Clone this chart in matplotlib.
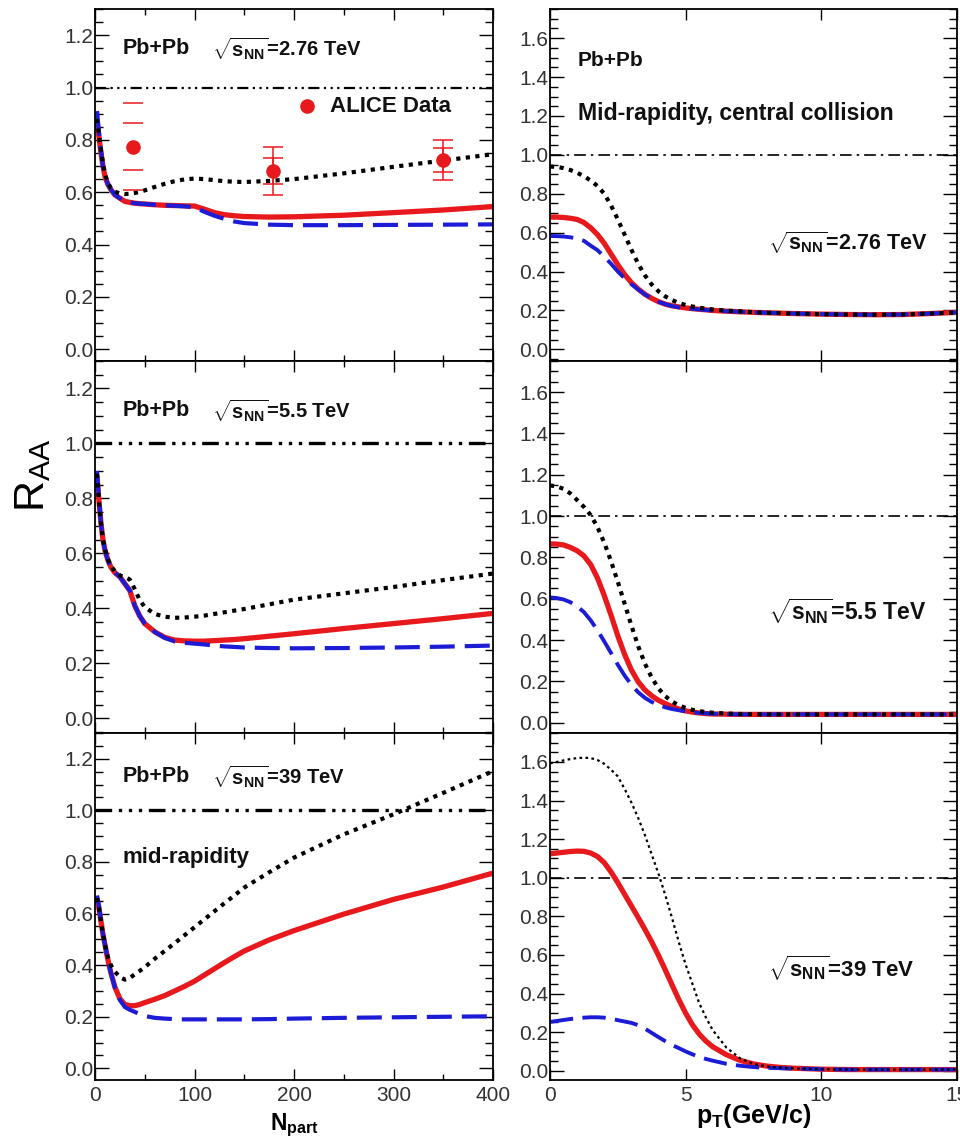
import numpy as np
import matplotlib
matplotlib.use('Agg')
import matplotlib.pyplot as plt
from matplotlib.ticker import FixedLocator, MultipleLocator, FormatStrFormatter

plt.rcParams['font.family'] = ['Liberation Sans', 'DejaVu Sans']
plt.rcParams['mathtext.fontset'] = 'custom'
plt.rcParams['mathtext.rm'] = 'Liberation Sans'
plt.rcParams['mathtext.bf'] = 'Liberation Sans:bold'
plt.rcParams['mathtext.sf'] = 'Liberation Sans'
plt.rcParams['mathtext.default'] = 'regular'

# ---------------- R_AA vs N_part ----------------
npart = [2, 4, 6, 8, 10, 13, 16, 20, 25, 30, 35, 40, 45, 50, 60, 70, 80, 90, 100,
         110, 120, 130, 140, 150, 175, 200, 250, 300, 350, 400]

# sqrt(s_NN) = 2.76 TeV
np276_dot = [0.88, 0.82, 0.76, 0.71, 0.67, 0.635, 0.615, 0.602, 0.595, 0.593, 0.594, 0.597, 0.601,
             0.607, 0.62, 0.632, 0.642, 0.649, 0.652, 0.65, 0.646, 0.642, 0.64, 0.639, 0.643,
             0.65, 0.672, 0.697, 0.721, 0.745]
np276_red = [0.87, 0.81, 0.75, 0.70, 0.66, 0.63, 0.61, 0.59, 0.577, 0.565, 0.561, 0.558, 0.556,
             0.555, 0.552, 0.55, 0.549, 0.548, 0.547, 0.535, 0.522, 0.514, 0.51, 0.507, 0.505,
             0.506, 0.512, 0.522, 0.532, 0.545]
np276_blue = [0.91, 0.83, 0.76, 0.70, 0.66, 0.63, 0.61, 0.59, 0.577, 0.565, 0.561, 0.558, 0.556,
              0.555, 0.552, 0.55, 0.548, 0.546, 0.542, 0.525, 0.51, 0.498, 0.488, 0.482, 0.476,
              0.474, 0.474, 0.475, 0.476, 0.477]

# sqrt(s_NN) = 5.5 TeV
np55_dot = [0.89, 0.79, 0.71, 0.65, 0.615, 0.58, 0.555, 0.535, 0.52, 0.515, 0.505, 0.47, 0.43,
            0.405, 0.38, 0.37, 0.366, 0.367, 0.37, 0.374, 0.38, 0.386, 0.392, 0.398, 0.415,
            0.432, 0.455, 0.478, 0.503, 0.527]
np55_red = [0.88, 0.79, 0.71, 0.65, 0.612, 0.575, 0.55, 0.53, 0.515, 0.49, 0.465, 0.41, 0.372,
            0.345, 0.315, 0.295, 0.285, 0.282, 0.281, 0.281, 0.283, 0.285, 0.287, 0.29, 0.299,
            0.308, 0.327, 0.345, 0.363, 0.382]
np55_blue = [0.90, 0.80, 0.71, 0.65, 0.612, 0.575, 0.55, 0.53, 0.515, 0.49, 0.465, 0.41, 0.372,
             0.345, 0.315, 0.293, 0.28, 0.275, 0.272, 0.269, 0.265, 0.262, 0.26, 0.258, 0.256,
             0.255, 0.256, 0.258, 0.261, 0.265]

# sqrt(s_NN) = 39 TeV
np39_dot = [0.66, 0.62, 0.57, 0.52, 0.48, 0.43, 0.40, 0.375, 0.354, 0.344, 0.35, 0.365, 0.378,
            0.392, 0.425, 0.455, 0.485, 0.516, 0.547, 0.578, 0.609, 0.64, 0.67, 0.701, 0.76,
            0.817, 0.907, 0.985, 1.068, 1.152]
np39_red = [0.66, 0.62, 0.57, 0.52, 0.48, 0.42, 0.37, 0.315, 0.27, 0.248, 0.243, 0.243, 0.248,
            0.255, 0.268, 0.282, 0.3, 0.318, 0.338, 0.362, 0.386, 0.41, 0.433, 0.455, 0.498,
            0.534, 0.598, 0.655, 0.703, 0.757]
np39_blue = [0.67, 0.63, 0.57, 0.52, 0.48, 0.42, 0.37, 0.315, 0.265, 0.238, 0.227, 0.219, 0.21,
             0.203, 0.196, 0.193, 0.191, 0.19, 0.19, 0.19, 0.19, 0.19, 0.19, 0.19, 0.191,
             0.193, 0.196, 0.198, 0.2, 0.202]

# ALICE points (value, inner and outer error)
alice_npart = [38, 179, 350]
alice_raa = [0.774, 0.681, 0.723]
alice_err_in = [0.089, 0.048, 0.044]
alice_err_out = [0.166, 0.091, 0.078]

# ---------------- R_AA vs p_T ----------------
pt = [0, 0.25, 0.5, 0.75, 1, 1.25, 1.5, 1.75, 2, 2.25, 2.5, 2.75, 3, 3.25, 3.5, 3.75, 4,
      4.25, 4.5, 4.75, 5, 5.25, 5.5, 5.75, 6, 6.5, 7, 7.5, 8, 8.5, 9, 10, 11, 12, 13, 14, 15]

pt276_dot = [0.94, 0.938, 0.932, 0.922, 0.908, 0.89, 0.868, 0.84, 0.80, 0.74, 0.668, 0.59,
             0.512, 0.44, 0.38, 0.333, 0.298, 0.272, 0.253, 0.238, 0.228, 0.22, 0.214, 0.209,
             0.205, 0.199, 0.195, 0.191, 0.188, 0.186, 0.184, 0.181, 0.179, 0.178, 0.179,
             0.184, 0.19]
pt276_red = [0.68, 0.68, 0.678, 0.674, 0.668, 0.652, 0.625, 0.59, 0.545, 0.49, 0.435, 0.385,
             0.343, 0.31, 0.283, 0.262, 0.245, 0.232, 0.224, 0.218, 0.213, 0.209, 0.206, 0.203,
             0.2, 0.196, 0.193, 0.19, 0.188, 0.186, 0.184, 0.181, 0.179, 0.178, 0.179, 0.184,
             0.19]
pt276_blue = [0.583, 0.582, 0.58, 0.576, 0.57, 0.558, 0.533, 0.51, 0.477, 0.44, 0.4, 0.365,
              0.335, 0.308, 0.282, 0.262, 0.245, 0.232, 0.222, 0.216, 0.212, 0.208, 0.205,
              0.202, 0.2, 0.196, 0.193, 0.19, 0.188, 0.186, 0.184, 0.181, 0.179, 0.178, 0.179,
              0.184, 0.19]

pt55_dot = [1.148, 1.143, 1.131, 1.109, 1.077, 1.044, 1.004, 0.946, 0.871, 0.781, 0.681, 0.576,
            0.47, 0.37, 0.285, 0.218, 0.165, 0.128, 0.102, 0.084, 0.071, 0.062, 0.056, 0.051,
            0.048, 0.044, 0.042, 0.041, 0.04, 0.04, 0.04, 0.04, 0.04, 0.04, 0.04, 0.04, 0.04]
pt55_red = [0.865, 0.864, 0.86, 0.848, 0.832, 0.807, 0.765, 0.70, 0.615, 0.52, 0.42, 0.33, 0.255,
            0.198, 0.158, 0.13, 0.108, 0.092, 0.078, 0.066, 0.057, 0.051, 0.047, 0.044, 0.042,
            0.041, 0.04, 0.04, 0.04, 0.04, 0.04, 0.04, 0.04, 0.04, 0.04, 0.04, 0.04]
pt55_blue = [0.606, 0.603, 0.596, 0.583, 0.563, 0.535, 0.495, 0.447, 0.393, 0.337, 0.28, 0.228,
             0.183, 0.147, 0.12, 0.1, 0.085, 0.074, 0.066, 0.06, 0.054, 0.05, 0.047, 0.045,
             0.043, 0.041, 0.04, 0.04, 0.04, 0.04, 0.04, 0.04, 0.04, 0.04, 0.04, 0.04, 0.04]

pt39_dot = [1.593, 1.6, 1.608, 1.615, 1.62, 1.622, 1.62, 1.61, 1.59, 1.56, 1.525, 1.46, 1.39,
            1.31, 1.22, 1.12, 1.02, 0.91, 0.79, 0.665, 0.55, 0.45, 0.35, 0.275, 0.21, 0.12,
            0.065, 0.035, 0.022, 0.016, 0.012, 0.008, 0.006, 0.006, 0.006, 0.006, 0.006]
pt39_red = [1.124, 1.128, 1.132, 1.136, 1.138, 1.137, 1.128, 1.11, 1.078, 1.03, 0.974, 0.914,
            0.854, 0.794, 0.732, 0.667, 0.597, 0.522, 0.444, 0.368, 0.298, 0.238, 0.19, 0.153,
            0.124, 0.083, 0.054, 0.035, 0.024, 0.017, 0.013, 0.008, 0.006, 0.006, 0.006, 0.006,
            0.006]
pt39_blue = [0.253, 0.258, 0.263, 0.268, 0.272, 0.275, 0.277, 0.277, 0.275, 0.27, 0.262, 0.255,
             0.248, 0.236, 0.218, 0.196, 0.174, 0.153, 0.133, 0.117, 0.1, 0.085, 0.072, 0.061,
             0.052, 0.036, 0.026, 0.019, 0.015, 0.013, 0.011, 0.008, 0.006, 0.006, 0.006,
             0.006, 0.006]

left_yticks = [0.0, 0.2, 0.4, 0.6, 0.8, 1.0, 1.2]
right_yticks = [0.0, 0.2, 0.4, 0.6, 0.8, 1.0, 1.2, 1.4, 1.6]
npart_ticks = [0, 100, 200, 300, 400]
pt_ticks = [0, 5, 10, 15]
energies = ['2.76', '5.5', '39']

RED = '#e8191d'
BLUE = '#1c1cd6'
GREY = '#333333'

W, H = 960.0, 1139.0
fig = plt.figure(figsize=(W / 100, H / 100), dpi=100)


def add_axes(x0, x1, y0, y1):
    # pixel box -> figure fraction
    return fig.add_axes([x0 / W, 1 - y1 / H, (x1 - x0) / W, (y1 - y0) / H])


def style(ax, xticks, xminor, yticks, ylims, xlims, show_x):
    ax.set_xlim(*xlims)
    ax.set_ylim(*ylims)
    ax.xaxis.set_major_locator(FixedLocator(xticks))
    if xminor:
        ax.xaxis.set_minor_locator(MultipleLocator(xminor))
    ax.yaxis.set_major_locator(FixedLocator(yticks))
    ax.yaxis.set_minor_locator(MultipleLocator(0.05))
    ax.yaxis.set_major_formatter(FormatStrFormatter('%.1f'))
    ax.tick_params(which='both', direction='in', top=True, right=True, width=1.0,
                   labelsize=15, labelcolor=GREY, pad=1)
    ax.tick_params(axis='y', which='major', length=10)
    ax.tick_params(axis='y', which='minor', length=5.5)
    ax.tick_params(axis='x', which='major', length=8, pad=4)
    ax.tick_params(axis='x', which='minor', length=4)
    ax.tick_params(axis='x', labelbottom=show_x)
    for s in ax.spines.values():
        s.set_linewidth(1.3)


rows = [(9, 361), (361, 733), (733, 1080)]
left_ylims = [(-0.045, 1.3), (-0.053, 1.3), (-0.045, 1.3)]
right_ylims = [(-0.06, 1.75), (-0.05, 1.75), (-0.048, 1.75)]

left_sets = [(np276_dot, np276_red, np276_blue),
             (np55_dot, np55_red, np55_blue),
             (np39_dot, np39_red, np39_blue)]
right_sets = [(pt276_dot, pt276_red, pt276_blue),
              (pt55_dot, pt55_red, pt55_blue),
              (pt39_dot, pt39_red, pt39_blue)]

bold = dict(fontweight='bold', color='#111111')

for i, (y0, y1) in enumerate(rows):
    last = i == 2
    # left column: centrality dependence
    ax = add_axes(95, 493, y0, y1)
    style(ax, npart_ticks, 50, left_yticks, left_ylims[i], (0, 400), last)
    dot, red, blue = left_sets[i]
    ax.axhline(1.0, color='black', lw=1.6 if i == 0 else 2.4,
               linestyle=(0, (5, 2, 1, 2, 1, 2, 1, 2)))
    ax.plot(npart, red, color=RED, lw=3.8, solid_capstyle='butt')
    ax.plot(npart, blue, color=BLUE, lw=3.0, linestyle=(0, (6, 2.4)))
    ax.plot(npart, dot, color='black', lw=3.0, linestyle=(0, (1, 1.3)))
    ty = [0.889, 0.868, 0.874][i]
    ax.text(0.07, ty, 'Pb+Pb', transform=ax.transAxes, fontsize=15.5, va='center', **bold)
    ax.text(0.293, ty, r'$\sqrt{s_{NN}}$=' + energies[i] + ' TeV', transform=ax.transAxes,
            fontsize=14.5, va='center', **bold)
    if i == 0:
        stems = [0, 1, 1]
        for k in range(len(alice_npart)):
            for err in (alice_err_out[k], alice_err_in[k]):
                _, caps, bars = ax.errorbar(alice_npart[k], alice_raa[k], yerr=err, fmt='none',
                                            ecolor=RED, elinewidth=1.1, capsize=7,
                                            capthick=1.1)
                bars[0].set_linewidth(1.1 * stems[k])
        ax.plot(alice_npart, alice_raa, 'o', color=RED, ms=9.5, mec=RED)
        ax.plot([0.532], [0.724], 'o', color=RED, ms=9.5, transform=ax.transAxes)
        ax.text(0.59, 0.724, 'ALICE Data', transform=ax.transAxes, fontsize=16,
                va='center', **bold)
    if i == 2:
        ax.text(0.07, 0.64, 'mid-rapidity', transform=ax.transAxes, fontsize=16,
                va='center', **bold)
        ax.set_xlabel(r'N$_{part}$', fontsize=16.5, fontweight='bold', labelpad=5)

    # right column: transverse momentum dependence
    ax = add_axes(550, 957, y0, y1)
    style(ax, pt_ticks, None, right_yticks, right_ylims[i], (0, 15), last)
    dot, red, blue = right_sets[i]
    ax.axhline(1.0, color='black', lw=1.2, linestyle=(0, (7, 3, 1.5, 3)))
    ax.plot(pt, red, color=RED, lw=3.8)
    ax.plot(pt, blue, color=BLUE, lw=2.8, linestyle=(0, (6, 2.4)))
    if i == 2:
        ax.plot(pt, dot, color='black', lw=1.6, linestyle=(0, (1.2, 1.5)))
    else:
        ax.plot(pt, dot, color='black', lw=3.0, linestyle=(0, (1, 1.3)))
    ey = [0.336, 0.328, 0.322][i]
    ax.text(0.536, ey, r'$\sqrt{s_{NN}}$=' + energies[i] + ' TeV', transform=ax.transAxes,
            fontsize=[15.5, 16.5, 16][i], va='center', **bold)
    if i == 0:
        ax.text(0.069, 0.855, 'Pb+Pb', transform=ax.transAxes, fontsize=15, va='center',
                **bold)
        ax.text(0.069, 0.704, 'Mid-rapidity, central collision', transform=ax.transAxes,
                fontsize=16.6, va='center', **bold)
    if i == 2:
        ax.set_xlabel(r'p$_{T}$(GeV/c)', fontsize=18, fontweight='bold', labelpad=-2)

fig.text(33 / W, 1 - 475 / H, r'$\mathsf{R_{AA}}$', fontsize=31, rotation=90,
         ha='center', va='center')

fig.savefig('out.png', dpi=100)
